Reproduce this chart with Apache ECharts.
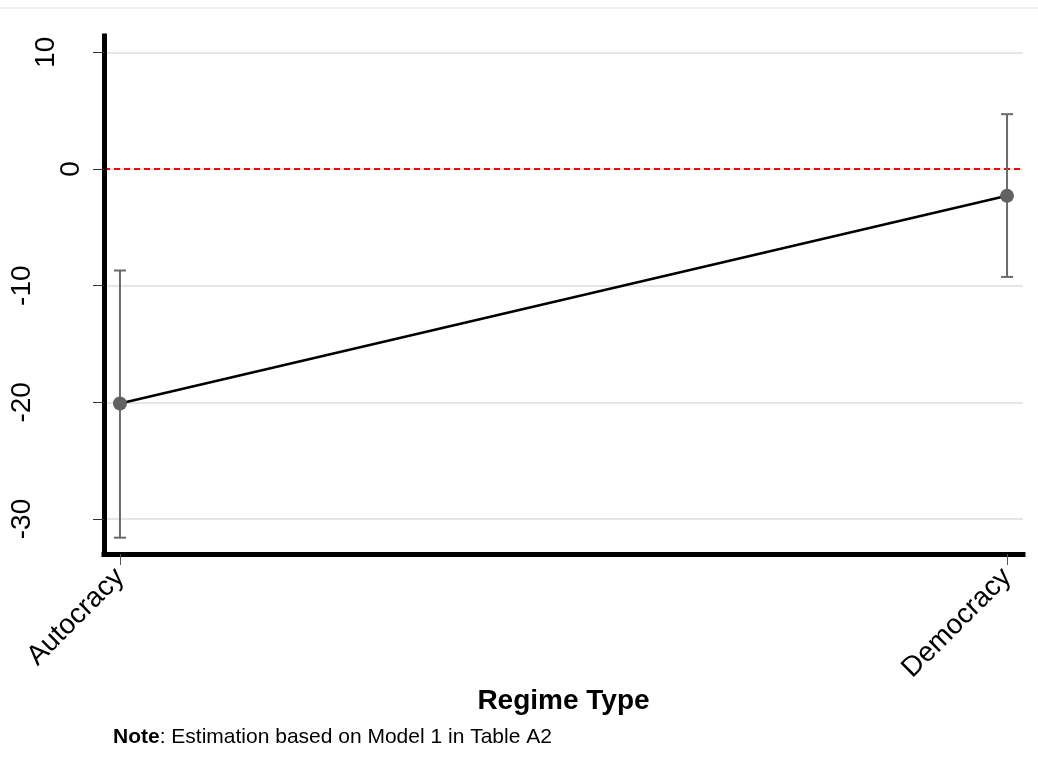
<!DOCTYPE html>
<html>
<head>
<meta charset="utf-8">
<script src="https://cdn.jsdelivr.net/npm/echarts@6/dist/echarts.min.js"></script>
<style>
  html, body { margin: 0; padding: 0; background: #fff; }
  #marginsplot { width: 1038px; height: 774px; }
</style>
</head>
<body>
<div id="marginsplot"></div>
<script>
// regime categories and estimated effects (with confidence bounds)
var categories = ['Autocracy', 'Democracy']
var estimates = [-20.1, -2.3]
var lowerBounds = [-31.6, -9.25]
var upperBounds = [-8.7, 4.7]
var yTicks = [-30, -20, -10, 0, 10]
var gridValues = [-30, -20, -10, 0, 10]
var refValue = 0

var font = 'Liberation Sans, Arial, Helvetica, sans-serif'

var pointData = categories.map(function (c, i) { return [i, estimates[i]] })
var ciData = categories.map(function (c, i) { return [i, lowerBounds[i], upperBounds[i]] })

var myChart = echarts.init(document.getElementById('marginsplot'))
myChart.setOption({
  animation: false,
  backgroundColor: '#fff',
  textStyle: { fontFamily: font },
  title: {
    left: 108,
    top: 722,
    text: '{b|Note}: Estimation based on Model 1 in Table A2',
    textStyle: {
      fontFamily: font,
      fontSize: 21,
      fontWeight: 'normal',
      color: '#000',
      rich: {
        b: { fontFamily: font, fontSize: 21, fontWeight: 'bold', color: '#000' }
      }
    }
  },
  graphic: [
    {
      type: 'line',
      shape: { x1: 0, y1: 8, x2: 1038, y2: 8 },
      style: { stroke: '#ececec', lineWidth: 1.5 },
      silent: true
    }
  ],
  grid: {
    left: 104,
    right: 15,
    top: 36,
    bottom: 220
  },
  xAxis: {
    type: 'value',
    min: -0.018,
    max: 1.018,
    name: 'Regime Type',
    nameLocation: 'middle',
    nameGap: 133,
    nameMoveOverlap: false,
    nameTextStyle: {
      fontFamily: font,
      fontSize: 28,
      fontWeight: 'bold',
      color: '#000'
    },
    axisLine: {
      onZero: false,
      lineStyle: { color: '#000', width: 5, cap: 'square' }
    },
    axisTick: {
      show: true,
      customValues: [0, 1],
      length: 11,
      lineStyle: { color: '#555', width: 1 }
    },
    axisLabel: {
      customValues: [0, 1],
      rotate: 45,
      margin: 19,
      fontFamily: font,
      fontSize: 28,
      color: '#000',
      formatter: function (v) { return categories[Math.round(v)] }
    },
    splitLine: { show: false }
  },
  yAxis: {
    type: 'value',
    min: -33,
    max: 11.4,
    axisLine: {
      show: true,
      onZero: false,
      lineStyle: { color: '#000', width: 5, cap: 'square' }
    },
    axisTick: {
      show: true,
      customValues: yTicks,
      length: 11,
      lineStyle: { color: '#333', width: 1 }
    },
    axisLabel: {
      customValues: yTicks,
      rotate: 90,
      margin: 8,
      fontFamily: font,
      fontSize: 28,
      color: '#000',
      formatter: function (v) {
        var s = String(Math.round(v))
        return '{t' + (s.length - 1) + '|' + s + '}'
      },
      rich: {
        t0: { fontFamily: font, fontSize: 28, color: '#000', lineHeight: 49 },
        t1: { fontFamily: font, fontSize: 28, color: '#000', lineHeight: 99 },
        t2: { fontFamily: font, fontSize: 28, color: '#000', lineHeight: 148 }
      }
    },
    splitLine: { show: false }
  },
  series: [
    {
      // grid lines and the zero reference line
      name: 'ref',
      type: 'line',
      data: [],
      z: 0,
      silent: true,
      markLine: {
        z: 0,
        silent: true,
        symbol: ['none', 'none'],
        label: { show: false },
        animation: false,
        data: gridValues.map(function (v) {
          return { yAxis: v, lineStyle: { color: '#e6e6e6', width: 2, type: 'solid' } }
        }).concat([
          { yAxis: refValue, lineStyle: { color: '#ff0000', width: 2, type: [6, 4] } }
        ])
      }
    },
    {
      name: 'CI',
      type: 'custom',
      z: 1,
      silent: true,
      data: ciData,
      renderItem: function (params, api) {
        var x = api.value(0)
        var lo = api.coord([x, api.value(1)])
        var hi = api.coord([x, api.value(2)])
        var cap = 6
        var style = { stroke: '#6a6a6a', lineWidth: 2 }
        return {
          type: 'group',
          children: [
            { type: 'line', shape: { x1: lo[0], y1: lo[1], x2: hi[0], y2: hi[1] }, style: style },
            { type: 'line', shape: { x1: lo[0] - cap, y1: lo[1], x2: lo[0] + cap, y2: lo[1] }, style: style },
            { type: 'line', shape: { x1: hi[0] - cap, y1: hi[1], x2: hi[0] + cap, y2: hi[1] }, style: style }
          ]
        }
      }
    },
    {
      name: 'Estimate',
      type: 'line',
      z: 2,
      data: pointData,
      symbol: 'circle',
      symbolSize: 14,
      showSymbol: true,
      lineStyle: { color: '#000', width: 2.5 },
      itemStyle: { color: '#626262', borderWidth: 0 }
    }
  ]
})
</script>
</body>
</html>
